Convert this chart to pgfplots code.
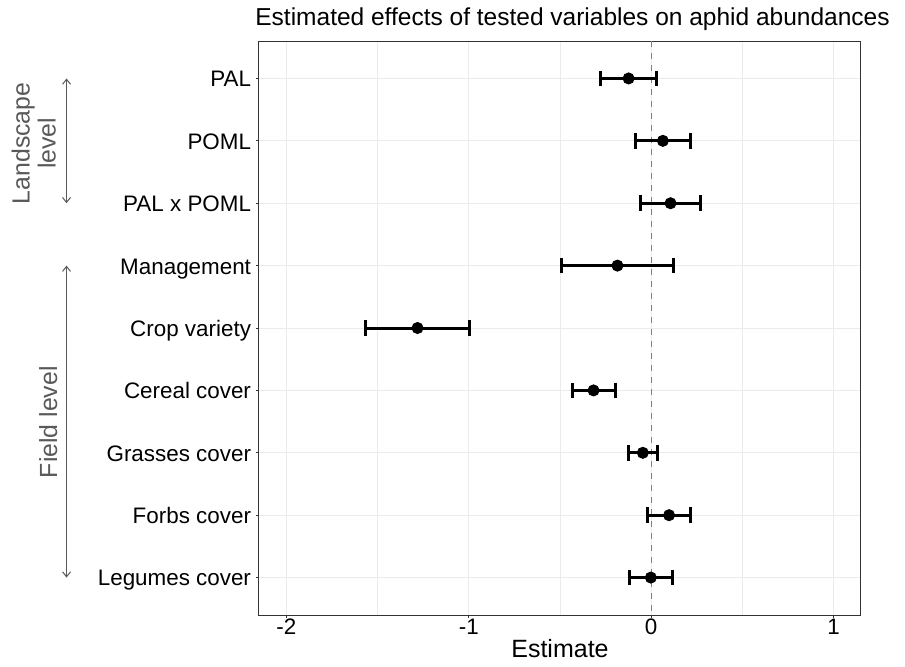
\documentclass[border=0pt]{standalone}
\usepackage{fontspec}
\setmainfont{Liberation Sans}
\usepackage{pgfplots}
\pgfplotsset{compat=1.18}
\usepackage{pgfplotstable}
\usetikzlibrary{arrows.meta}

\definecolor{gridgray}{RGB}{235,235,235}
\definecolor{framegray}{RGB}{51,51,51}
\definecolor{sidegray}{RGB}{89,89,89}
\definecolor{zerogray}{RGB}{128,128,128}

% estimate, row (1 = top), half width of the interval
\pgfplotstableread{
est    row err
-0.124 1   0.155
0.064  2   0.152
0.106  3   0.163
-0.185 4   0.308
-1.281 5   0.283
-0.316 6   0.118
-0.046 7   0.079
0.098  8   0.117
-0.002 9   0.117
}\coefs

\begin{document}
\begin{tikzpicture}
\begin{axis}[
  at={(0pt,0pt)}, anchor=south west,
  scale only axis, width=301pt, height=287pt,
  clip=false,
  xmin=-2.15, xmax=1.15, ymin=0.4, ymax=9.6,
  y dir=reverse,
  xtick={-2,-1,0,1}, xticklabels={-2,-1,0,1},
  minor xtick={-1.5,-0.5,0.5},
  ytick={1,...,9},
  yticklabels={PAL,POML,PAL x POML,Management,Crop variety,Cereal cover,Grasses cover,Forbs cover,Legumes cover},
  grid=both,
  major grid style={gridgray, line width=0.5pt},
  minor grid style={gridgray, line width=0.3pt},
  axis line style={framegray, line width=0.5pt},
  tick pos=left, tick align=outside,
  major tick length=1.5pt, minor tick length=0pt,
  tick style={framegray, line width=0.5pt},
  ticklabel style={font=\fontsize{11.2}{13}\selectfont, inner sep=0pt},
  xticklabel style={anchor=base, yshift=-8.15pt},
  yticklabel style={anchor=base east, xshift=-2.3pt, yshift=-4.2pt},
  title={Estimated effects of tested variables on aphid abundances},
  title style={at={(axis description cs:0.5208,1)}, anchor=base, yshift=2pt, inner sep=0pt,
    font=\fontsize{12.25}{14}\selectfont},
  xlabel={Estimate},
  xlabel style={at={(axis description cs:0.5,0)}, anchor=base, yshift=-21.15pt, inner sep=0pt,
    font=\fontsize{12.5}{14}\selectfont},
]
\addplot[zerogray, line width=0.5pt, dash pattern=on 3pt off 3pt] coordinates {(0,0.4) (0,9.6)};
\addplot[black, only marks, mark=*, mark size=2.8pt,
  error bars/.cd, x dir=both, x explicit, error mark=|,
  error bar style={black, line width=1.5pt},
  error mark options={black, line width=1.5pt, mark size=3.9pt}]
  table[x=est, y=row, x error=err] {\coefs};

\draw[sidegray, line width=0.5pt, {Straight Barb[length=2.5pt,width=4pt]}-{Straight Barb[length=2.5pt,width=4pt]}]
  (axis cs:-3.205,1) -- (axis cs:-3.205,3);
\draw[sidegray, line width=0.5pt, {Straight Barb[length=2.5pt,width=4pt]}-{Straight Barb[length=2.5pt,width=4pt]}]
  (axis cs:-3.205,4) -- (axis cs:-3.205,9);
\node[sidegray, rotate=90, align=center, font=\fontsize{12.4}{13}\selectfont] at (axis cs:-3.385,2.04) {Landscape\\level};
\node[sidegray, rotate=90, font=\fontsize{12.4}{13}\selectfont] at (axis cs:-3.305,6.51) {Field level};
\end{axis}
\path (-129.5pt,-25.5pt) rectangle (323pt,307.5pt);
\end{tikzpicture}
\end{document}
